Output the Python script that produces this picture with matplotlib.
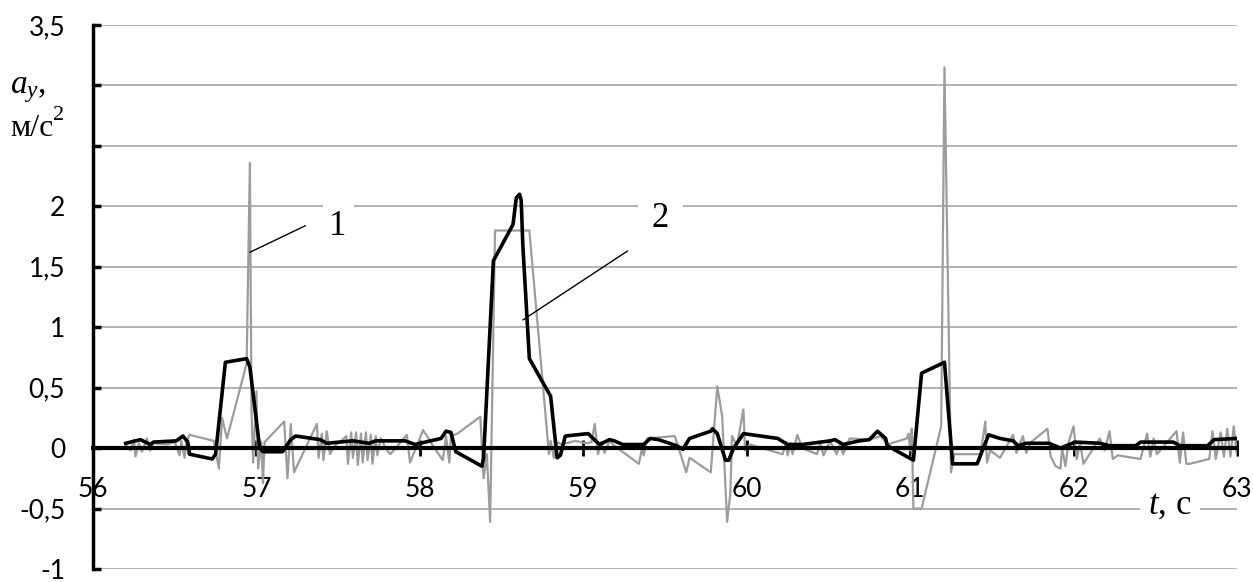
import matplotlib
matplotlib.use('Agg')
import matplotlib.pyplot as plt

# series 1 (raw signal, gray)
gray_t = [56.20, 56.23, 56.25, 56.26, 56.28, 56.30, 56.33, 56.35, 56.37, 56.45,
          56.50, 56.53, 56.54, 56.56, 56.57, 56.59, 56.74, 56.77, 56.79, 56.82,
          56.94, 56.96, 56.97, 56.98, 57.00, 57.01, 57.03, 57.04, 57.05, 57.17,
          57.19, 57.21, 57.23, 57.37, 57.38, 57.40, 57.41, 57.43, 57.45, 57.48,
          57.52, 57.55, 57.56, 57.58, 57.59, 57.61, 57.62, 57.64, 57.65, 57.67,
          57.68, 57.70, 57.71, 57.73, 57.74, 57.76, 57.80, 57.82, 57.92, 57.94,
          58.02, 58.08, 58.14, 58.16, 58.18, 58.19, 58.23, 58.37, 58.39, 58.41,
          58.43, 58.46, 58.67, 58.78, 58.79, 58.80, 58.82, 58.84, 58.87, 58.95,
          59.02, 59.05, 59.07, 59.09, 59.11, 59.13, 59.16, 59.19, 59.34, 59.36,
          59.37, 59.39, 59.56, 59.63, 59.65, 59.78, 59.82, 59.85, 59.88, 59.90,
          59.91, 59.94, 59.98, 59.99, 60.02, 60.22, 60.24, 60.25, 60.27, 60.28,
          60.31, 60.34, 60.43, 60.45, 60.47, 60.51, 60.55, 60.57, 60.59, 60.63,
          60.75, 60.82, 60.86, 60.98, 60.99, 61.00, 61.01, 61.02, 61.07, 61.19,
          61.21, 61.25, 61.27, 61.43, 61.46, 61.47, 61.49, 61.55, 61.63, 61.65,
          61.69, 61.71, 61.74, 61.84, 61.86, 61.89, 61.92, 61.93, 61.95, 61.97,
          62.00, 62.02, 62.04, 62.06, 62.16, 62.19, 62.22, 62.24, 62.27, 62.41,
          62.45, 62.47, 62.49, 62.51, 62.63, 62.65, 62.67, 62.69, 62.71, 62.83,
          62.85, 62.87, 62.90, 62.92, 62.94, 62.96, 62.98, 63.00]
gray_a = [0.03, -0.02, 0.07, -0.07, 0.04, -0.03, 0.08, -0.02, 0.04, 0.03,
          0.05, -0.06, 0.06, -0.08, 0.04, 0.11, 0.06, -0.17, 0.25, 0.08,
          0.70, 2.36, 0.30, -0.12, 0.47, -0.17, 0.05, -0.29, 0.05, 0.22,
          -0.25, 0.20, -0.20, 0.20, -0.08, 0.12, -0.10, 0.14, -0.05, 0.02,
          0.06, 0.10, -0.13, 0.13, -0.08, 0.13, -0.14, 0.12, -0.12, 0.13,
          -0.10, 0.11, -0.13, 0.10, -0.06, 0.08, -0.02, -0.05, 0.11, -0.12,
          0.15, 0.02, -0.10, 0.10, -0.12, 0.10, 0.12, 0.26, -0.25, -0.05,
          -0.61, 1.80, 1.80, 0.10, -0.05, 0.06, -0.08, 0.05, 0.03, 0.06,
          0.04, 0.05, 0.20, -0.05, 0.05, -0.04, 0.06, 0.02, -0.13, 0.00,
          -0.06, 0.08, 0.10, -0.20, -0.08, -0.20, 0.51, 0.26, -0.61, -0.37,
          0.10, 0.02, 0.32, -0.02, 0.03, -0.05, 0.05, -0.06, 0.04, -0.05,
          0.11, 0.00, -0.05, 0.04, -0.06, 0.06, -0.05, 0.03, -0.05, 0.08,
          0.07, 0.10, 0.03, 0.08, 0.12, -0.02, 0.16, -0.50, -0.50, 0.18,
          3.15, -0.20, -0.05, -0.05, 0.22, -0.12, -0.02, -0.08, 0.11, -0.04,
          0.10, -0.04, 0.05, 0.16, -0.07, -0.15, -0.17, 0.00, -0.15, 0.05,
          0.18, -0.09, 0.05, -0.13, 0.08, -0.02, 0.14, -0.09, -0.06, -0.09,
          0.12, -0.07, 0.08, -0.05, 0.14, -0.12, 0.13, -0.13, -0.13, -0.09,
          0.14, -0.09, 0.13, -0.07, 0.16, -0.07, 0.18, -0.06]

# series 2 (filtered signal, black)
black_t = [56.20, 56.29, 56.35, 56.37, 56.51, 56.55, 56.58, 56.59, 56.73, 56.75,
           56.81, 56.94, 56.96, 57.02, 57.04, 57.16, 57.21, 57.24, 57.39, 57.43,
           57.59, 57.69, 57.73, 57.91, 57.97, 58.13, 58.16, 58.19, 58.22, 58.38,
           58.39, 58.45, 58.57, 58.59, 58.61, 58.62, 58.63, 58.67, 58.80, 58.84,
           58.86, 58.89, 59.03, 59.06, 59.10, 59.16, 59.19, 59.24, 59.37, 59.41,
           59.46, 59.57, 59.61, 59.65, 59.78, 59.79, 59.82, 59.87, 59.89, 59.92,
           59.98, 60.19, 60.25, 60.34, 60.51, 60.54, 60.59, 60.69, 60.75, 60.80,
           60.85, 60.86, 60.98, 61.02, 61.07, 61.21, 61.26, 61.41, 61.48, 61.55,
           61.63, 61.66, 61.71, 61.85, 61.92, 62.01, 62.16, 62.22, 62.38, 62.41,
           62.61, 62.65, 62.82, 62.86, 63.00]
black_a = [0.04, 0.07, 0.03, 0.05, 0.06, 0.10, 0.05, -0.05, -0.09, -0.05,
           0.71, 0.74, 0.67, 0.00, -0.03, -0.03, 0.07, 0.10, 0.07, 0.04,
           0.06, 0.04, 0.06, 0.06, 0.03, 0.08, 0.14, 0.13, -0.03, -0.15,
           -0.08, 1.55, 1.85, 2.07, 2.10, 2.05, 1.68, 0.74, 0.43, -0.08,
           -0.06, 0.10, 0.12, 0.08, 0.03, 0.07, 0.06, 0.03, 0.03, 0.08,
           0.07, 0.02, -0.01, 0.08, 0.14, 0.16, 0.12, -0.10, -0.10, 0.00,
           0.12, 0.08, 0.03, 0.03, 0.06, 0.07, 0.03, 0.06, 0.07, 0.14,
           0.08, 0.02, -0.07, -0.10, 0.62, 0.71, -0.13, -0.13, 0.11, 0.08,
           0.06, 0.02, 0.04, 0.04, 0.00, 0.05, 0.04, 0.02, 0.02, 0.05,
           0.05, 0.02, 0.02, 0.07, 0.08]

x_ticks = [56, 57, 58, 59, 60, 61, 62, 63]
x_labels = ['56', '57', '58', '59', '60', '61', '62', '63']
y_ticks = [-1, -0.5, 0, 0.5, 1, 1.5, 2, 2.5, 3, 3.5]
y_labels = ['-1', '-0,5', '0', '0,5', '1', '1,5', '2', '', '', '3,5']

plt.rcParams['font.family'] = ['Lato', 'DejaVu Sans']
plt.rcParams['mathtext.fontset'] = 'custom'
plt.rcParams['mathtext.it'] = 'Liberation Serif:italic'
plt.rcParams['mathtext.rm'] = 'Liberation Serif'

fig = plt.figure(figsize=(12.53, 5.82), dpi=100)
ax = fig.add_axes([93 / 1253, 13 / 582, 1144 / 1253, 544 / 582])

ax.plot(gray_t, gray_a, color='#9c9c9c', lw=1.6, zorder=2)
ax.plot(black_t, black_a, color='black', lw=2.6, zorder=4, solid_joinstyle='round')

ax.set_xlim(56, 63)
ax.set_ylim(-1, 3.5)

ax.spines['top'].set_visible(False)
ax.spines['right'].set_visible(False)
ax.spines['bottom'].set_position(('data', 0))
ax.spines['bottom'].set_linewidth(3)
ax.spines['bottom'].set_zorder(3)
ax.spines['left'].set_linewidth(2.5)

ax.set_xticks(x_ticks)
ax.set_xticklabels(x_labels)
ax.set_yticks(y_ticks)
ax.set_yticklabels(y_labels)
ax.tick_params(axis='x', direction='inout', length=12, width=2, pad=15, labelsize=19)
ax.tick_params(axis='y', direction='in', length=6, width=2.5, pad=20, labelsize=19)

ax.yaxis.grid(True, color='#a6a6a6', lw=1.2)
ax.set_axisbelow(True)

# labels of the curves
ax.text(57.50, 1.83, '1', ha='center', va='center', fontsize=25,
        family='Liberation Serif', bbox=dict(facecolor='white', edgecolor='none', pad=5), zorder=5)
ax.text(59.47, 1.90, '2', ha='center', va='center', fontsize=25,
        family='Liberation Serif', bbox=dict(facecolor='white', edgecolor='none', pad=10), zorder=5)
ax.annotate('', xy=(56.96, 1.62), xytext=(57.30, 1.84),
            arrowprops=dict(arrowstyle='-', lw=1, color='black', shrinkA=0, shrinkB=0), zorder=6)
ax.annotate('', xy=(58.63, 1.06), xytext=(59.27, 1.63),
            arrowprops=dict(arrowstyle='-', lw=1, color='black', shrinkA=0, shrinkB=0), zorder=6)

# axis titles
ax.text(62.59, -0.47, r'$t$, с', ha='center', va='center', fontsize=25,
        family='Liberation Serif', bbox=dict(facecolor='white', edgecolor='none', pad=6), zorder=5)
fig.text(10 / 1253, 1 - 90 / 582, r'$a_y$,', ha='left', va='center', fontsize=24,
         family='Liberation Serif')
fig.text(10 / 1253, 1 - 128 / 582, 'м/с', ha='left', va='center', fontsize=23,
         family='Liberation Serif')
fig.text(53 / 1253, 1 - 116 / 582, '2', ha='left', va='center', fontsize=16,
         family='Liberation Serif')

plt.savefig('out.png', dpi=100)
plt.close()
